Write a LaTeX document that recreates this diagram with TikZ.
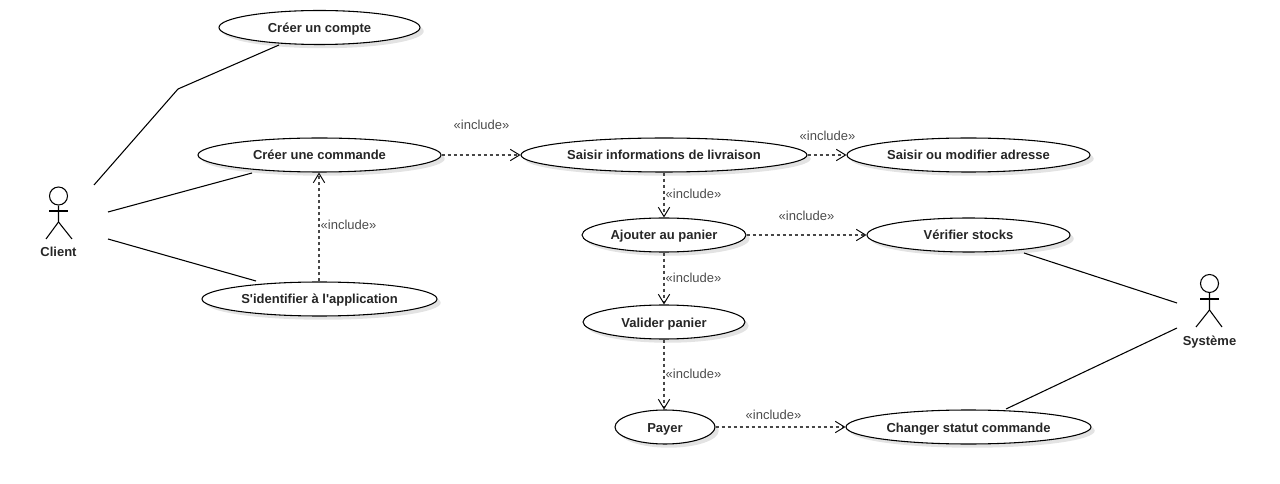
\documentclass[tikz,border=0pt]{standalone}
\usepackage{fontspec}
\newfontfamily\lib{Liberation Sans}
\usetikzlibrary{shapes.geometric,arrows.meta}
\def\px{0.75pt}
\tikzset{
  uc/.style={ellipse,draw=black,line width=0.8pt,fill=white,inner sep=0pt,minimum height=34*\px,
    font=\lib\bfseries\fontsize{9.75pt}{11pt}\selectfont,text=black!85,text height=8pt,text depth=0.5pt,
    preaction={draw=none,fill=black!11,transform canvas={shift={(2.8pt,-2.8pt)}}}},
  inc/.style={draw=black!72,line width=1.1pt,dash pattern=on 2.25pt off 2.25pt,
    -{Straight Barb[length=7pt,width=8.5pt,line width=0.7pt,black]}},
  inclabel/.style={font=\lib\fontsize{9.75pt}{11pt}\selectfont,text=black!70,inner sep=0pt,text height=7pt,text depth=0pt},
  assoc/.style={draw=black,line width=0.8pt},
  actorline/.style={draw=black,line width=0.8pt},
  head/.style={circle,draw=black,line width=0.8pt,inner sep=0pt,minimum size=18*\px},
  actorlabel/.style={font=\lib\bfseries\fontsize{9.75pt}{11pt}\selectfont,text=black!85,inner sep=0pt,text height=7.5pt,text depth=0pt}
}
\begin{document}
\begin{tikzpicture}[x=0.75pt,y=-0.75pt]
\useasboundingbox (0,0) rectangle (1280,484);
% use cases
\node[uc,minimum width=201*\px] (compte) at (319.5,27.5) {Créer un compte};
\node[uc,minimum width=243*\px] (commande) at (319.5,155) {Créer une commande};
\node[uc,minimum width=235*\px] (identifier) at (319.5,299) {S'identifier à l'application};
\node[uc,minimum width=286*\px] (infos) at (664,155) {Saisir informations de livraison};
\node[uc,minimum width=243*\px] (adresse) at (968.5,155) {Saisir ou modifier adresse};
\node[uc,minimum width=164*\px] (ajouter) at (664,235) {Ajouter au panier};
\node[uc,minimum width=203*\px] (stocks) at (968.5,235) {Vérifier stocks};
\node[uc,minimum width=162*\px] (valider) at (664,322) {Valider panier};
\node[uc,minimum width=100*\px] (payer) at (665,427) {Payer};
\node[uc,minimum width=245*\px] (statut) at (968.5,427) {Changer statut commande};
% actor Client
\node[head] (clienthead) at (58.5,196) {};
\coordinate (clientarmL) at (49,211);
\coordinate (clientarmR) at (68,211);
\coordinate (clienthip) at (58.5,222);
\coordinate (clientlegL) at (46,239);
\coordinate (clientlegR) at (72,239);
\draw[actorline] (clienthead.south) -- (clienthip) -- (clientlegL);
\draw[actorline] (clienthip) -- (clientlegR);
\draw[actorline] (clientarmL) -- (clientarmR);
\node[actorlabel] (clientlabel) at (58.5,252) {Client};
% actor Systeme
\node[head] (systemehead) at (1209.5,283.5) {};
\coordinate (sysarmL) at (1200,299);
\coordinate (sysarmR) at (1219,299);
\coordinate (syship) at (1209.5,310);
\coordinate (syslegL) at (1196,327);
\coordinate (syslegR) at (1222,327);
\draw[actorline] (systemehead.south) -- (syship) -- (syslegL);
\draw[actorline] (syship) -- (syslegR);
\draw[actorline] (sysarmL) -- (sysarmR);
\node[actorlabel] (systemelabel) at (1209.5,340) {Système};
% free ends of associations
\coordinate (c1) at (94,185);
\coordinate (c1b) at (178,89);
\coordinate (c1e) at (279,45);
\coordinate (c2) at (108,212);
\coordinate (c2e) at (252,173);
\coordinate (c3) at (108,239);
\coordinate (c3e) at (256,281);
\coordinate (s1) at (1177,303);
\coordinate (s1e) at (1024,253);
\coordinate (s2) at (1177,328);
\coordinate (s2e) at (1006,409);
\draw[assoc] (c1) -- (c1b) -- (c1e);
\draw[assoc] (c2) -- (c2e);
\draw[assoc] (c3) -- (c3e);
\draw[assoc] (s1) -- (s1e);
\draw[assoc] (s2) -- (s2e);
% includes
\draw[inc] (commande.east) -- (infos.west);
\draw[inc] (infos.east) -- (adresse.west);
\draw[inc] (infos.south) -- (ajouter.north);
\draw[inc] (ajouter.east) -- (stocks.west);
\draw[inc] (ajouter.south) -- (valider.north);
\draw[inc] (valider.south) -- (valider.south |- payer.north);
\draw[inc] (payer.east) -- (statut.west);
\draw[inc] ([xshift=-0.375pt]identifier.north) -- ([xshift=-0.375pt]commande.south);
\node[inclabel] (l1) at (481.5,125) {«include»};
\node[inclabel] (l2) at (827.5,136) {«include»};
\node[inclabel] (l3) at (693.5,194) {«include»};
\node[inclabel] (l4) at (806.5,216) {«include»};
\node[inclabel] (l5) at (693.5,278) {«include»};
\node[inclabel] (l6) at (693.5,374) {«include»};
\node[inclabel] (l7) at (773.5,415) {«include»};
\node[inclabel] (l8) at (348.5,225) {«include»};
\end{tikzpicture}
\end{document}
